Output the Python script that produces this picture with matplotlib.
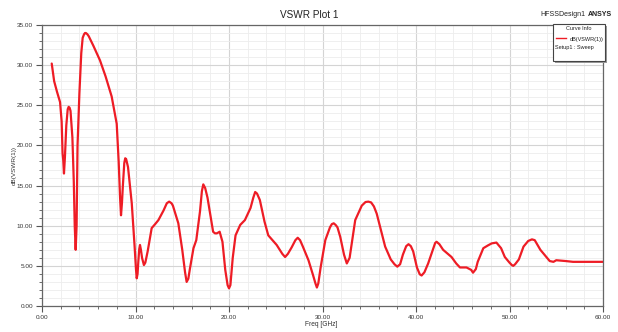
import matplotlib
matplotlib.use("Agg")
import matplotlib.pyplot as plt
from matplotlib.patches import Rectangle
from matplotlib.lines import Line2D
from matplotlib.ticker import MultipleLocator, FormatStrFormatter

plt.rcParams['font.family'] = ['Liberation Sans', 'DejaVu Sans']

freq_ghz = [1.04, 1.3, 1.6, 1.93, 2.1, 2.2, 2.27, 2.35, 2.45, 2.6, 2.75, 2.85, 2.95, 3.05, 3.25, 3.4, 3.5, 3.6, 3.7, 3.8,
            4.0, 4.2, 4.35, 4.5, 4.6, 4.7, 4.85, 5.0, 5.5, 6.2, 6.8, 7.45, 7.99, 8.2, 8.35, 8.45, 8.55, 8.65, 8.8, 8.9,
            9.0, 9.2, 9.6, 9.9, 10.05, 10.13, 10.22, 10.3, 10.4, 10.48, 10.58, 10.7, 10.9, 11.05, 11.3, 11.73, 12.1,
            12.45, 13.0, 13.35, 13.6, 13.85, 14.0, 14.58, 15.0, 15.3, 15.47, 15.65, 15.8,
            16.2, 16.5, 16.9, 17.1, 17.25, 17.45, 17.7, 18.3, 18.5, 18.7, 19.0, 19.3, 19.6, 19.85, 20.0, 20.15, 20.4,
            20.7, 21.2, 21.7, 22.3, 22.6, 22.8, 23.0, 23.3, 23.8, 24.2, 25.1, 25.7, 26.0, 26.3, 26.7, 27.1, 27.35,
            27.6, 27.9, 28.5, 29.0, 29.25, 29.4, 29.55, 29.8, 30.3, 30.8, 31.0, 31.2, 31.4,
            31.6, 31.9, 32.3, 32.6, 32.9, 33.5, 34.2, 34.6, 34.9, 35.2, 35.5, 35.8, 36.7, 37.3, 37.7, 38.0, 38.3,
            38.6, 38.95, 39.2, 39.45, 39.7, 40.1, 40.4, 40.6, 40.9, 41.3, 41.8, 42.05, 42.2, 42.5, 42.9, 43.8, 44.3,
            44.7, 45.4, 45.9, 46.1, 46.4, 46.6, 47.2, 47.7, 48.1, 48.6, 49.1, 49.5,
            50.0, 50.25, 50.4, 50.6, 51.0, 51.5, 52.0, 52.4, 52.7, 52.9, 53.3, 54.3, 54.7, 55.0, 56.0, 56.8, 58.0, 60.0]
db_vswr = [30.2, 28.0, 26.7, 25.4, 23.0, 19.0, 18.2, 16.5, 18.5, 22.5, 24.5, 24.8, 24.7, 24.3, 21.0, 15.5, 10.0, 7.0, 10.0, 20.0,
           26.5, 31.5, 33.4, 33.85, 34.0, 34.0, 33.85, 33.6, 32.4, 30.6, 28.6, 26.1, 22.7, 18.0, 13.5, 11.3, 12.8, 15.0, 17.8, 18.4,
           18.3, 17.3, 12.8, 7.5, 4.6, 3.45, 4.0, 5.5, 7.1, 7.6, 7.0, 6.0, 5.1, 5.4, 6.8, 9.7, 10.2,
           10.7, 11.9, 12.8, 13.0, 12.8, 12.5, 10.3, 7.0, 4.2, 3.0, 3.4, 4.5,
           7.2, 8.2, 11.8, 14.3, 15.15, 14.7, 13.5, 9.25, 9.05, 9.05, 9.25, 8.0, 4.5, 2.6, 2.2, 2.6, 6.0,
           8.8, 10.1, 10.7, 12.2, 13.5, 14.2, 14.0, 13.2, 10.5, 8.8, 7.6, 6.5, 6.1, 6.5, 7.3, 8.2, 8.5,
           8.2, 7.4, 5.7, 3.8, 2.8, 2.3, 2.8, 4.8, 8.2, 9.8, 10.2, 10.3, 10.1,
           9.8, 8.6, 6.4, 5.3, 6.0, 10.7, 12.5, 12.95, 13.0, 12.9, 12.4, 11.5, 7.4, 5.8, 5.2, 4.9, 5.2,
           6.4, 7.45, 7.7, 7.45, 6.8, 4.8, 3.95, 3.8, 4.2, 5.3, 7.0, 7.85, 8.0, 7.7, 7.0, 6.1, 5.3,
           4.8, 4.8, 4.5, 4.15, 4.6, 5.5, 7.2, 7.55, 7.8, 7.9, 7.2, 6.1,
           5.4, 5.1, 5.0, 5.2, 5.8, 7.4, 8.1, 8.3, 8.2, 7.8, 7.0, 5.6, 5.5, 5.7, 5.6, 5.5, 5.5, 5.5]

fig = plt.figure(figsize=(6.18, 3.32), dpi=100)
ax = fig.add_axes([42/618, 26/332, (603-42)/618, (306-25)/332])

ax.plot(freq_ghz, db_vswr, color='#ee1c25', lw=1.6, solid_joinstyle='round', solid_capstyle='round')

ax.set_xlim(0, 60)
ax.set_ylim(0, 35)
ax.xaxis.set_major_locator(MultipleLocator(10))
ax.xaxis.set_minor_locator(MultipleLocator(2))
ax.yaxis.set_major_locator(MultipleLocator(5))
ax.yaxis.set_minor_locator(MultipleLocator(1))
ax.xaxis.set_major_formatter(FormatStrFormatter('%.2f'))
ax.yaxis.set_major_formatter(FormatStrFormatter('%.2f'))
ax.grid(which='major', color='#d4d4d4', lw=0.8)
ax.grid(which='minor', color='#ededed', lw=0.6)
ax.set_axisbelow(True)
ax.tick_params(which='major', direction='out', length=4, width=0.8, color='#555555',
               labelsize=4.6, labelcolor='#333333', pad=2.5)
ax.tick_params(which='minor', direction='out', length=2.5, width=0.6, color='#555555')
for s in ax.spines.values():
    s.set_color('#666666')
    s.set_linewidth(0.9)

ax.set_xlabel('Freq [GHz]', fontsize=4.8, color='#333333')
ax.xaxis.set_label_coords(0.497, -0.055)
ax.set_ylabel('dB(VSWR(1))', fontsize=4.6, color='#333333')
ax.yaxis.set_label_coords(-0.045, 0.5)

fig.text(0.5, 1 - 15/332, 'VSWR Plot 1', ha='center', va='center', fontsize=7.2, color='#222222')
fig.text(563/618, 1 - 15/332, 'HFSSDesign1', ha='center', va='center', fontsize=5, color='#222222')
fig.text(600/618, 1 - 14/332, 'ANSYS', ha='center', va='center', fontsize=5, fontweight='bold', color='#222222')

# legend box
sx, sy, sw, sh = 553/618, 1 - 61/332, 52/618, 37/332
fig.patches.append(Rectangle((sx + 1.5/618, sy - 1.5/332), sw, sh, transform=fig.transFigure,
                             facecolor='#9a9a9a', edgecolor='none', zorder=5))
fig.patches.append(Rectangle((sx, sy), sw, sh, transform=fig.transFigure,
                             facecolor='white', edgecolor='#444444', lw=0.8, zorder=6))
fig.text(sx + sw/2, 1 - 29/332, 'Curve Info', ha='center', va='center', fontsize=4, color='#222222', zorder=7)
fig.lines.append(Line2D([556/618, 566/618], [1 - 38/332, 1 - 38/332], transform=fig.transFigure,
                        color='#ee1c25', lw=1.0, zorder=7))
fig.text(604/618, 1 - 39/332, 'dB(VSWR(1))', ha='right', va='center', fontsize=4, color='#222222', zorder=7)
fig.text(555/618, 1 - 47/332, 'Setup1 : Sweep', ha='left', va='center', fontsize=4, color='#222222', zorder=7)

fig.savefig('out.png', dpi=100)
